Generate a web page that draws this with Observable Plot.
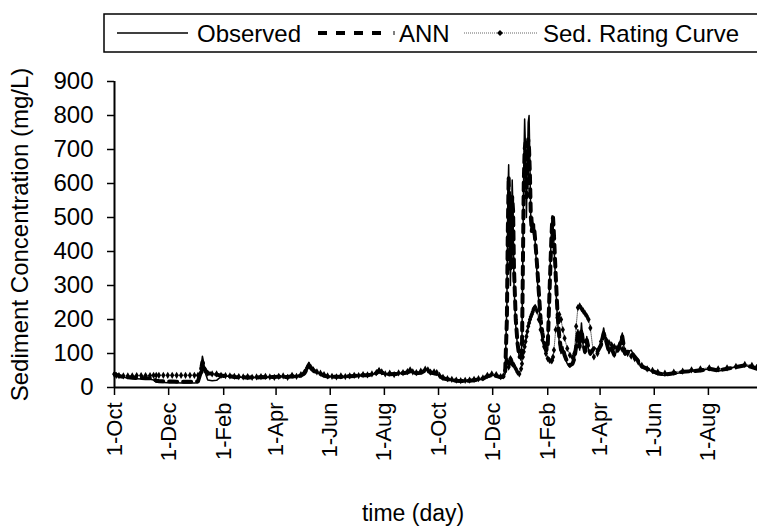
<!DOCTYPE html>
<html>
<head>
<meta charset="utf-8">
<script src="https://cdn.jsdelivr.net/npm/d3@7"></script>
<script src="https://cdn.jsdelivr.net/npm/@observablehq/plot@0.6"></script>
<style>
  html, body { margin: 0; padding: 0; background: #fff; overflow: hidden; }
  #wrap { position: relative; width: 757px; height: 528px; }
  #chart { position: absolute; left: 0; top: 0; }
  #legend { position: absolute; left: 0; top: 0; }
  text { font-family: "Liberation Sans", Arial, sans-serif; }
</style>
</head>
<body>
<div id="wrap">
  <div id="chart"></div>
  <svg id="legend" width="757" height="60" font-family="Liberation Sans, Arial, sans-serif" font-size="24">
    <rect x="104" y="14" width="700" height="38" fill="#fff" stroke="#000" stroke-width="1.5"></rect>
    <line x1="117" x2="188" y1="33" y2="33" stroke="#000" stroke-width="1.5"></line>
    <text x="197" y="42">Observed</text>
    <line x1="318" x2="386" y1="33" y2="33" stroke="#000" stroke-width="4" stroke-dasharray="9,9"></line>
    <line x1="394" x2="394" y1="31" y2="35" stroke="#000" stroke-width="1"></line>
    <text x="399" y="42">ANN</text>
    <line x1="464" x2="537" y1="33" y2="33" stroke="#666" stroke-width="1" stroke-dasharray="1,1"></line>
    <path d="M500,30 L503,33 L500,36 L497,33 Z" fill="#000"></path>
    <text x="543" y="42">Sed. Rating Curve</text>
  </svg>
</div>
<script>
// day offsets from 1-Oct (first year)
const days = [
  0,2,5,10,15,20,25,30,35,40,44,47,50,55,60,65,70,75,80,85,90,94,96,98,99,100,102,105,110,115,120,
  125,130,135,140,145,150,155,160,165,170,175,180,185,190,195,200,205,210,
  214,217,219,221,224,228,232,236,240,245,
  250,255,260,265,270,275,280,285,290,295,
  298,301,305,310,315,320,325,330,333,336,
  340,345,350,353,356,360,363,366,370,375,
  380,385,390,395,400,405,410,415,420,425,430,435,438,
  440,442,443,444,445,446,447,448,449,450,
  452,454,456,458,459,460,461,462,463,464,
  465,466,467,468,469,470,471,472,473,474,
  476,478,480,482,484,486,488,490,492,493,
  494,495,497,499,501,503,505,507,510,513,
  516,518,520,522,524,526,528,530,532,534,
  536,540,544,548,551,554,557,560,563,566,
  569,572,575,578,582,586,590,594,600,606,
  612,620,630,640,650,660,670,680,690,700,
  710,718,724
];
const observed = [
  42,38,33,30,28,27,26,25,25,24,22,16,15,15,14,14,14,13,13,13,13,14,30,70,92,80,45,22,20,21,32,
  34,32,30,31,29,30,28,30,29,31,30,33,30,32,28,35,30,38,
  45,65,74,60,50,45,38,33,30,32,
  30,33,31,35,33,36,34,38,36,45,
  55,42,38,40,36,42,40,45,50,42,
  40,45,55,48,40,45,42,32,25,22,
  20,18,17,18,18,20,22,25,35,38,33,28,30,
  40,250,550,655,450,300,480,610,500,300,
  180,120,90,80,150,400,650,790,700,500,
  650,780,800,650,480,470,500,450,480,420,
  330,250,180,150,120,100,110,300,450,505,
  480,420,300,200,130,100,120,90,70,60,
  70,80,130,170,110,190,120,100,150,110,
  95,120,110,130,175,130,100,120,90,110,
  130,160,95,105,110,90,75,60,55,45,
  38,35,40,45,48,50,55,48,55,60,
  65,60,55
];
const ann = [
  40,37,34,31,30,29,28,28,27,27,26,20,19,18,18,18,17,17,17,17,17,18,35,60,75,70,50,42,40,38,35,
  33,33,31,30,30,29,30,29,31,30,31,31,32,30,31,33,32,35,
  42,55,62,58,50,44,40,35,32,31,
  32,31,33,33,34,35,36,36,38,42,
  48,44,40,39,40,40,42,44,48,45,
  42,43,50,50,44,42,40,34,27,24,
  22,20,19,19,20,21,24,26,33,36,34,30,32,
  40,200,450,620,500,350,450,560,520,350,
  200,130,90,90,120,350,600,700,720,560,
  650,730,700,620,500,460,480,470,460,430,
  360,280,200,160,130,110,120,280,430,490,
  500,450,330,220,150,110,115,95,75,65,
  70,85,120,160,120,170,130,105,140,115,
  100,115,105,125,160,135,105,115,95,105,
  125,150,100,105,105,90,78,62,55,48,
  42,38,42,46,48,50,55,50,55,60,
  65,60,55
];
const ratingCurve = [
  38,36,35,34,34,34,35,35,35,35,36,36,36,36,36,36,36,36,36,36,36,36,38,45,55,60,52,42,40,40,36,
  35,34,33,32,31,32,30,31,32,33,31,30,33,34,30,36,33,38,
  45,58,65,60,52,46,42,38,34,33,
  31,34,32,34,36,35,38,37,40,44,
  50,46,40,42,38,43,44,47,52,46,
  44,48,54,52,45,46,44,36,30,26,
  24,22,20,21,22,24,26,28,36,40,38,32,34,
  50,80,75,60,70,85,80,70,68,65,
  55,45,40,55,70,90,105,120,135,150,
  165,180,190,200,208,215,222,230,234,236,
  225,200,170,140,120,100,85,80,78,80,
  90,110,170,205,215,200,170,145,115,95,
  88,100,180,235,240,232,225,218,210,200,
  175,90,100,135,148,140,132,125,120,115,
  118,112,105,100,92,85,75,65,55,50,
  45,42,45,48,52,55,58,55,58,62,
  68,65,62
];
const tickDates = ["2000-10-01","2000-12-01","2001-02-01","2001-04-01","2001-06-01","2001-08-01",
                   "2001-10-01","2001-12-01","2002-02-01","2002-04-01","2002-06-01","2002-08-01"];
const yTicks = [0,100,200,300,400,500,600,700,800,900];

const origin = Date.UTC(2000, 9, 1);
const toDate = d => new Date(origin + d * 864e5);
const rows = days.map((d, i) => ({date: toDate(d), obs: observed[i], ann: ann[i], src: ratingCurve[i]}));
const xStart = toDate(0), xEnd = toDate(724.3);
const fmt = d3.utcFormat("%-d-%b");

const chart = Plot.plot({
  width: 757,
  height: 528,
  marginLeft: 114,
  marginRight: 0,
  marginTop: 81,
  marginBottom: 141,
  style: {fontFamily: "Liberation Sans, Arial, sans-serif", fontSize: "22px", color: "#000", background: "#fff", overflow: "visible"},
  x: {type: "utc", domain: [xStart, xEnd]},
  y: {domain: [0, 900]},
  marks: [
    Plot.line(rows, {x: "date", y: "src", stroke: "#666", strokeWidth: 1, strokeDasharray: "1,1"}),
    Plot.dot(rows, {x: "date", y: "src", symbol: "diamond", r: 2.2, fill: "#000", stroke: "none"}),
    Plot.line(rows, {x: "date", y: "ann", stroke: "#000", strokeWidth: 4, strokeDasharray: "8,6"}),
    Plot.line(rows, {x: "date", y: "obs", stroke: "#000", strokeWidth: 1.5}),
    Plot.axisY({ticks: yTicks, tickSize: 7, tickPadding: 14, strokeWidth: 1.5,
                label: "Sediment Concentration (mg/L)", labelAnchor: "center", labelArrow: "none", labelOffset: 104, fontSize: 24}),
    Plot.axisX({ticks: tickDates.map(s => new Date(s)), tickFormat: fmt, tickRotate: -90, tickSize: 8, tickPadding: 7,
                strokeWidth: 1.5, label: null, fontSize: 22}),
    Plot.ruleX([xStart], {strokeWidth: 2}),
    Plot.ruleY([0], {strokeWidth: 2}),
    Plot.text(["time (day)"], {frameAnchor: "bottom", dy: 133, dx: -23, fontSize: 23})
  ]
});
document.getElementById("chart").appendChild(chart);
</script>
</body>
</html>
